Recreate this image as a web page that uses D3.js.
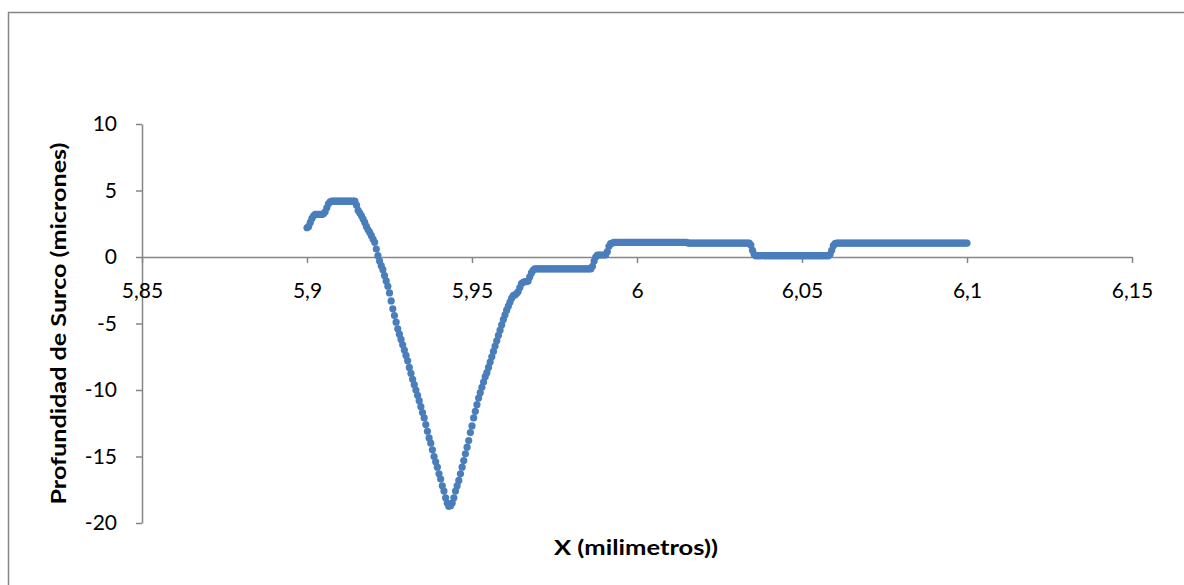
<!DOCTYPE html>
<html>
<head>
<meta charset="utf-8">
<script src="https://cdn.jsdelivr.net/npm/d3@7"></script>
<style>
  html, body { margin: 0; padding: 0; background: #ffffff; }
  svg { display: block; }
  text { font-family: Lato, "Open Sans", "Liberation Sans", sans-serif; fill: #000; }
</style>
</head>
<body>
<svg id="chart" width="1184" height="585"></svg>
<script>
// ---- data ----
const xValues = [
  5.9,5.9005,5.901,5.9015,5.902,5.9025,5.903,5.9035,5.904,5.9045,5.905,5.9055,5.906,5.9065,5.907,5.9075,5.908,5.9085,5.909,5.9095,
  5.91,5.9105,5.911,5.9115,5.912,5.9125,5.913,5.9135,5.914,5.9145,5.915,5.9155,5.916,5.9165,5.917,5.9175,5.918,5.9185,5.919,5.9195,
  5.92,5.9205,5.921,5.9215,5.922,5.9225,5.923,5.9235,5.924,5.9245,5.925,5.9255,5.926,5.9265,5.927,5.9275,5.928,5.9285,5.929,5.9295,
  5.93,5.9305,5.931,5.9315,5.932,5.9325,5.933,5.9335,5.934,5.9345,5.935,5.9355,5.936,5.9365,5.937,5.9375,5.938,5.9385,5.939,5.9395,
  5.94,5.9405,5.941,5.9415,5.942,5.9425,5.943,5.9435,5.944,5.9445,5.945,5.9455,5.946,5.9465,5.947,5.9475,5.948,5.9485,5.949,5.9495,
  5.95,5.9505,5.951,5.9515,5.952,5.9525,5.953,5.9535,5.954,5.9545,5.955,5.9555,5.956,5.9565,5.957,5.9575,5.958,5.9585,5.959,5.9595,
  5.96,5.9605,5.961,5.9615,5.962,5.9625,5.963,5.9635,5.964,5.9645,5.965,5.9655,5.966,5.9665,5.967,5.9675,5.968,5.9685,5.969,5.9695,
  5.97,5.9705,5.971,5.9715,5.972,5.9725,5.973,5.9735,5.974,5.9745,5.975,5.9755,5.976,5.9765,5.977,5.9775,5.978,5.9785,5.979,5.9795,
  5.98,5.9805,5.981,5.9815,5.982,5.9825,5.983,5.9835,5.984,5.9845,5.985,5.9855,5.986,5.9865,5.987,5.9875,5.988,5.9885,5.989,5.9895,
  5.99,5.9905,5.991,5.9915,5.992,5.9925,5.993,5.9935,5.994,5.9945,5.995,5.9955,5.996,5.9965,5.997,5.9975,5.998,5.9985,5.999,5.9995,
  6.0,6.0005,6.001,6.0015,6.002,6.0025,6.003,6.0035,6.004,6.0045,6.005,6.0055,6.006,6.0065,6.007,6.0075,6.008,6.0085,6.009,6.0095,
  6.01,6.0105,6.011,6.0115,6.012,6.0125,6.013,6.0135,6.014,6.0145,6.015,6.0155,6.016,6.0165,6.017,6.0175,6.018,6.0185,6.019,6.0195,
  6.02,6.0205,6.021,6.0215,6.022,6.0225,6.023,6.0235,6.024,6.0245,6.025,6.0255,6.026,6.0265,6.027,6.0275,6.028,6.0285,6.029,6.0295,
  6.03,6.0305,6.031,6.0315,6.032,6.0325,6.033,6.0335,6.034,6.0345,6.035,6.0355,6.036,6.0365,6.037,6.0375,6.038,6.0385,6.039,6.0395,
  6.04,6.0405,6.041,6.0415,6.042,6.0425,6.043,6.0435,6.044,6.0445,6.045,6.0455,6.046,6.0465,6.047,6.0475,6.048,6.0485,6.049,6.0495,
  6.05,6.0505,6.051,6.0515,6.052,6.0525,6.053,6.0535,6.054,6.0545,6.055,6.0555,6.056,6.0565,6.057,6.0575,6.058,6.0585,6.059,6.0595,
  6.06,6.0605,6.061,6.0615,6.062,6.0625,6.063,6.0635,6.064,6.0645,6.065,6.0655,6.066,6.0665,6.067,6.0675,6.068,6.0685,6.069,6.0695,
  6.07,6.0705,6.071,6.0715,6.072,6.0725,6.073,6.0735,6.074,6.0745,6.075,6.0755,6.076,6.0765,6.077,6.0775,6.078,6.0785,6.079,6.0795,
  6.08,6.0805,6.081,6.0815,6.082,6.0825,6.083,6.0835,6.084,6.0845,6.085,6.0855,6.086,6.0865,6.087,6.0875,6.088,6.0885,6.089,6.0895,
  6.09,6.0905,6.091,6.0915,6.092,6.0925,6.093,6.0935,6.094,6.0945,6.095,6.0955,6.096,6.0965,6.097,6.0975,6.098,6.0985,6.099,6.0995,
  6.1
];

const depthValues = [
  2.2,2.3,2.6,2.9,3.1,3.2,3.2,3.2,3.2,3.2,3.25,3.4,3.7,4.0,4.15,4.2,4.2,4.2,4.2,4.2,
  4.2,4.2,4.2,4.2,4.2,4.2,4.2,4.2,4.2,4.2,3.9,3.5,3.3,3.1,2.85,2.6,2.3,2.05,1.85,1.6,
  1.35,1.1,0.6,0.1,-0.3,-0.65,-0.95,-1.4,-1.8,-2.2,-2.7,-3.3,-3.9,-4.4,-4.9,-5.4,-5.8,-6.2,-6.6,-7.0,
  -7.4,-7.8,-8.3,-8.75,-9.2,-9.6,-10.0,-10.4,-10.8,-11.25,-11.7,-12.1,-12.6,-13.1,-13.6,-14.0,-14.5,-15.0,-15.4,-15.8,
  -16.3,-16.7,-17.2,-17.6,-18.1,-18.5,-18.75,-18.7,-18.5,-18.1,-17.6,-17.2,-16.8,-16.3,-15.8,-15.3,-14.8,-14.3,-13.8,-13.2,
  -12.7,-12.1,-11.6,-11.1,-10.6,-10.2,-9.8,-9.4,-9.0,-8.7,-8.3,-7.9,-7.5,-7.1,-6.7,-6.3,-5.9,-5.5,-5.1,-4.7,
  -4.35,-4.0,-3.7,-3.4,-3.1,-2.9,-2.85,-2.75,-2.6,-2.3,-2.0,-1.9,-1.85,-1.85,-1.8,-1.5,-1.2,-1.0,-0.9,-0.9,
  -0.9,-0.9,-0.9,-0.9,-0.9,-0.9,-0.9,-0.9,-0.9,-0.9,-0.9,-0.9,-0.9,-0.9,-0.9,-0.9,-0.9,-0.9,-0.9,-0.9,
  -0.9,-0.9,-0.9,-0.9,-0.9,-0.9,-0.9,-0.9,-0.9,-0.9,-0.9,-0.9,-0.9,-0.7,-0.3,0.0,0.15,0.15,0.15,0.15,
  0.15,0.15,0.4,0.8,1.0,1.05,1.1,1.1,1.1,1.1,1.1,1.1,1.1,1.1,1.1,1.1,1.1,1.1,1.1,1.1,
  1.1,1.1,1.1,1.1,1.1,1.1,1.1,1.1,1.1,1.1,1.1,1.1,1.1,1.1,1.1,1.1,1.1,1.1,1.1,1.1,
  1.1,1.1,1.1,1.1,1.1,1.1,1.1,1.1,1.1,1.1,1.1,1.05,1.05,1.05,1.05,1.05,1.05,1.05,1.05,1.05,
  1.05,1.05,1.05,1.05,1.05,1.05,1.05,1.05,1.05,1.05,1.05,1.05,1.05,1.05,1.05,1.05,1.05,1.05,1.05,1.05,
  1.05,1.05,1.05,1.05,1.05,1.05,1.05,1.05,1.05,0.9,0.5,0.2,0.1,0.1,0.1,0.1,0.1,0.1,0.1,0.1,
  0.1,0.1,0.1,0.1,0.1,0.1,0.1,0.1,0.1,0.1,0.1,0.1,0.1,0.1,0.1,0.1,0.1,0.1,0.1,0.1,
  0.1,0.1,0.1,0.1,0.1,0.1,0.1,0.1,0.1,0.1,0.1,0.1,0.1,0.1,0.1,0.1,0.1,0.2,0.5,0.85,
  1.0,1.05,1.05,1.05,1.05,1.05,1.05,1.05,1.05,1.05,1.05,1.05,1.05,1.05,1.05,1.05,1.05,1.05,1.05,1.05,
  1.05,1.05,1.05,1.05,1.05,1.05,1.05,1.05,1.05,1.05,1.05,1.05,1.05,1.05,1.05,1.05,1.05,1.05,1.05,1.05,
  1.05,1.05,1.05,1.05,1.05,1.05,1.05,1.05,1.05,1.05,1.05,1.05,1.05,1.05,1.05,1.05,1.05,1.05,1.05,1.05,
  1.05,1.05,1.05,1.05,1.05,1.05,1.05,1.05,1.05,1.05,1.05,1.05,1.05,1.05,1.05,1.05,1.05,1.05,1.05,1.05,
  1.05
];

const xTickValues = [5.85, 5.9, 5.95, 6.0, 6.05, 6.1, 6.15];
const xTickLabels = ["5,85", "5,9", "5,95", "6", "6,05", "6,1", "6,15"];
const yTickValues = [-20, -15, -10, -5, 0, 5, 10];
const yTickLabels = ["-20", "-15", "-10", "-5", "0", "5", "10"];
const xTitle = "X (milimetros))";
const yTitle = "Profundidad de Surco (micrones)";

// ---- drawing ----
const svg = d3.select("#chart");
const axisColor = "#868686";
const markerColor = "#4a7ebb";
const titleFont = "'Open Sans', Lato, sans-serif";

// outer chart border
svg.append("rect")
  .attr("x", 8.5).attr("y", 12.5)
  .attr("width", 1200).attr("height", 620)
  .attr("fill", "none").attr("stroke", axisColor).attr("stroke-width", 1.5);

const x = d3.scaleLinear().domain([5.85, 6.15]).range([142, 1132]);
const y = d3.scaleLinear().domain([-20, 10]).range([523, 124]);

// y axis
const yAxis = d3.axisLeft(y)
  .tickValues(yTickValues)
  .tickSize(6)
  .tickSizeOuter(0)
  .tickPadding(19)
  .tickFormat((d, i) => yTickLabels[i]);
const gy = svg.append("g").attr("transform", `translate(${x(5.85)},0)`).call(yAxis);
gy.select(".domain").attr("stroke", axisColor).attr("stroke-width", 1.5);
gy.selectAll(".tick line").attr("stroke", axisColor).attr("stroke-width", 1.5);
gy.selectAll(".tick text")
  .attr("font-size", 21)
  .attr("font-family", "Lato, 'Open Sans', sans-serif")
  .attr("fill", "#000");

// x axis at y = 0
const xAxis = d3.axisBottom(x)
  .tickValues(xTickValues)
  .tickSize(6)
  .tickSizeOuter(0)
  .tickPadding(20)
  .tickFormat((d, i) => xTickLabels[i]);
const gx = svg.append("g").attr("transform", `translate(0,${y(0)})`).call(xAxis);
gx.select(".domain").attr("stroke", axisColor).attr("stroke-width", 1.5);
gx.selectAll(".tick line").attr("stroke", axisColor).attr("stroke-width", 1.5);
gx.selectAll(".tick text")
  .attr("font-size", 21)
  .attr("font-family", "Lato, 'Open Sans', sans-serif")
  .attr("fill", "#000");

// axis titles
svg.append("text")
  .attr("x", 636).attr("y", 555)
  .attr("text-anchor", "middle")
  .attr("font-family", titleFont)
  .attr("font-size", 20).attr("font-weight", "bold")
  .attr("textLength", 164).attr("lengthAdjust", "spacingAndGlyphs")
  .text(xTitle);

svg.append("text")
  .attr("transform", `translate(66,${(y(-20) + y(10)) / 2}) rotate(-90)`)
  .attr("text-anchor", "middle")
  .attr("font-family", titleFont)
  .attr("font-size", 20).attr("font-weight", "bold")
  .attr("textLength", 362).attr("lengthAdjust", "spacingAndGlyphs")
  .text(yTitle);

// markers
const points = xValues.map((xv, i) => ({ x: xv, y: depthValues[i] }));
svg.append("g")
  .selectAll("circle")
  .data(points)
  .join("circle")
  .attr("cx", d => x(d.x))
  .attr("cy", d => y(d.y))
  .attr("r", 3.6)
  .attr("fill", markerColor);
</script>
</body>
</html>
